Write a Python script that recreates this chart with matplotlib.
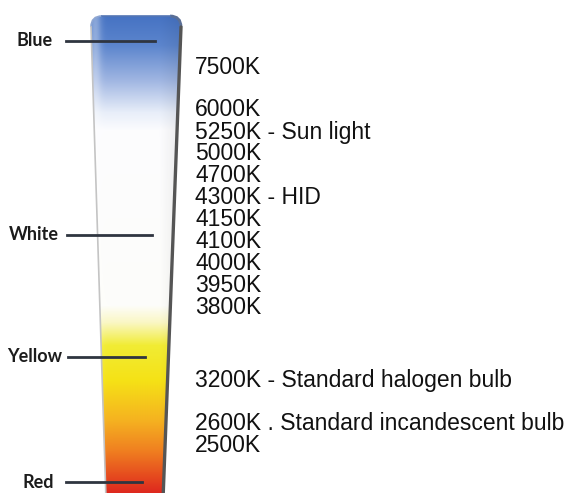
import numpy as np
import matplotlib.pyplot as plt
from matplotlib.path import Path
from matplotlib.patches import PathPatch

W, H = 571, 493

# colour temperature rows on the right
kelvin_labels = ['7500K', '6000K', '5250K - Sun light', '5000K', '4700K', '4300K - HID',
                 '4150K', '4100K', '4000K', '3950K', '3800K',
                 '3200K - Standard halogen bulb', '2600K . Standard incandescent bulb', '2500K']
kelvin_y = [67, 110, 132, 154, 176, 198, 220, 242, 264, 286, 308, 380, 424, 445]

# colour names on the left
colour_names = ['Blue', 'White', 'Yellow', 'Red']
colour_y = [41, 235, 357, 482]

# gradient stops down the tube (pixel row, rgb)
stop_y = [16, 45, 80, 112, 130, 305, 322, 345, 380, 420, 450, 493]
stop_rgb = [(70, 115, 195), (92, 133, 205), (160, 182, 226), (232, 238, 249),
            (252, 252, 254), (253, 253, 250), (250, 247, 196), (241, 236, 52),
            (245, 226, 22), (245, 178, 32), (240, 128, 32), (222, 38, 30)]

# layout of the left labels / leader lines
name_x = [16, 9, 7, 22]
line_x0 = [66, 67, 68, 66]
line_x1 = [155, 152, 145, 142]


def tube_path(top=16, bottom=500, lt=91, lb=106, rt=181, rb=163, r=11):
    verts = [(lt, top + r), (lt, top), (lt + r, top),
             (rt - r, top), (rt, top), (rt, top + r),
             (rb, bottom), (lb, bottom), (lt, top + r)]
    codes = [Path.MOVETO, Path.CURVE3, Path.CURVE3,
             Path.LINETO, Path.CURVE3, Path.CURVE3,
             Path.LINETO, Path.LINETO, Path.CLOSEPOLY]
    return Path(verts, codes)


fig = plt.figure(figsize=(W / 100, H / 100), dpi=100)
ax = fig.add_axes([0, 0, 1, 1])
ax.set_xlim(0, W)
ax.set_ylim(H, 0)
ax.axis('off')

# vertical gradient image with a little sideways shading
rows = np.arange(H)
rgb = np.array(stop_rgb, dtype=float) / 255
col = np.stack([np.interp(rows, stop_y, rgb[:, k]) for k in range(3)], axis=1)
xs = np.linspace(0, 1, 120)
hl = 0.35 * np.exp(-((xs - 0.1) / 0.06) ** 2)
shade = 1 - 0.08 * np.clip((xs - 0.75) / 0.25, 0, 1)
img = col[:, None, :] * shade[None, :, None]
img = img + (1 - img) * hl[None, :, None]
img = np.clip(img, 0, 1)

path = tube_path()
patch = PathPatch(path, facecolor='none', edgecolor='none')
ax.add_patch(patch)
im = ax.imshow(img, extent=[85, 185, H, 0], aspect='auto', interpolation='bilinear')
im.set_clip_path(patch)

# tube outline: light left side, bluish top, dark right side
ax.plot([91, 106], [27, 500], color='#c4c4c4', lw=1.2)
ax.plot([102, 170], [16, 16], color='#5476b4', lw=1.2)
ax.plot([181, 163], [27, 500], color='#555555', lw=2.4, solid_capstyle='round')
corner = Path([(170, 16), (181, 16), (181, 27)], [Path.MOVETO, Path.CURVE3, Path.CURVE3])
ax.add_patch(PathPatch(corner, facecolor='none', edgecolor='#5a6f96', lw=2))
corner_l = Path([(91, 27), (91, 16), (102, 16)], [Path.MOVETO, Path.CURVE3, Path.CURVE3])
ax.add_patch(PathPatch(corner_l, facecolor='none', edgecolor='#8ea6d2', lw=1.2))

for name, y, tx, x0, x1 in zip(colour_names, colour_y, name_x, line_x0, line_x1):
    ax.text(tx, y, name, fontsize=13, fontfamily='Lato', fontweight='bold',
            color='#1c1c1c', va='center', ha='left')
    ax.plot([x0, x1], [y, y], color='#2f3540', lw=2)

for label, y in zip(kelvin_labels, kelvin_y):
    ax.text(195, y, label, fontsize=16.5, fontfamily='Liberation Sans',
            color='#111111', va='center', ha='left')

fig.savefig('out.png', dpi=100)
